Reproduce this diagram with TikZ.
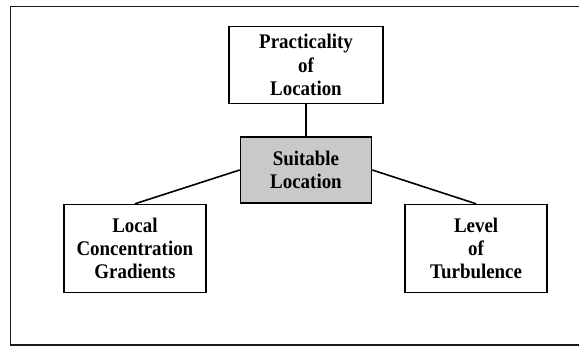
\documentclass[tikz,border=0pt]{standalone}
\usepackage{fontspec}
\setmainfont{Liberation Serif}
\newfontfamily\boxfont[FakeStretch=0.91]{Liberation Serif}
\usetikzlibrary{positioning}
\definecolor{boxgray}{HTML}{C9C9C9}
\definecolor{framegray}{HTML}{1A1A1A}
\tikzset{
  link/.style={black, line width=1.6pt},
  factorbox/.style={draw=black, line width=1.6pt, fill=white, align=center, inner sep=2pt,
    font=\boxfont\fontsize{20.8}{23.2}\selectfont\bfseries, minimum width=142pt, minimum height=88pt},
  centerbox/.style={factorbox, fill=boxgray, minimum width=131pt, minimum height=66pt},
  topbox/.style={factorbox, minimum width=154pt, minimum height=77pt}
}
\begin{document}
\begin{tikzpicture}[x=1pt, y=-1pt]
  \useasboundingbox (0,0) rectangle (579,346);
  \draw[framegray, line width=1.4pt] (10.5,6.5) rectangle (590,345);
  \node[centerbox] (suit) at (306,170) {Suitable\\Location};
  \node[topbox, above=32pt of suit] (pract) {Practicality\\of\\Location};
  \node[factorbox, below left=0pt and 33pt of suit] (local) {Local\\Concentration\\Gradients};
  \node[factorbox, below right=0pt and 32pt of suit] (turb) {Level\\of\\Turbulence};
  \draw[link] (pract) -- (suit);
  \draw[link] (suit.west) -- (local.north);
  \draw[link] (suit.east) -- (turb.north);
\end{tikzpicture}
\end{document}
